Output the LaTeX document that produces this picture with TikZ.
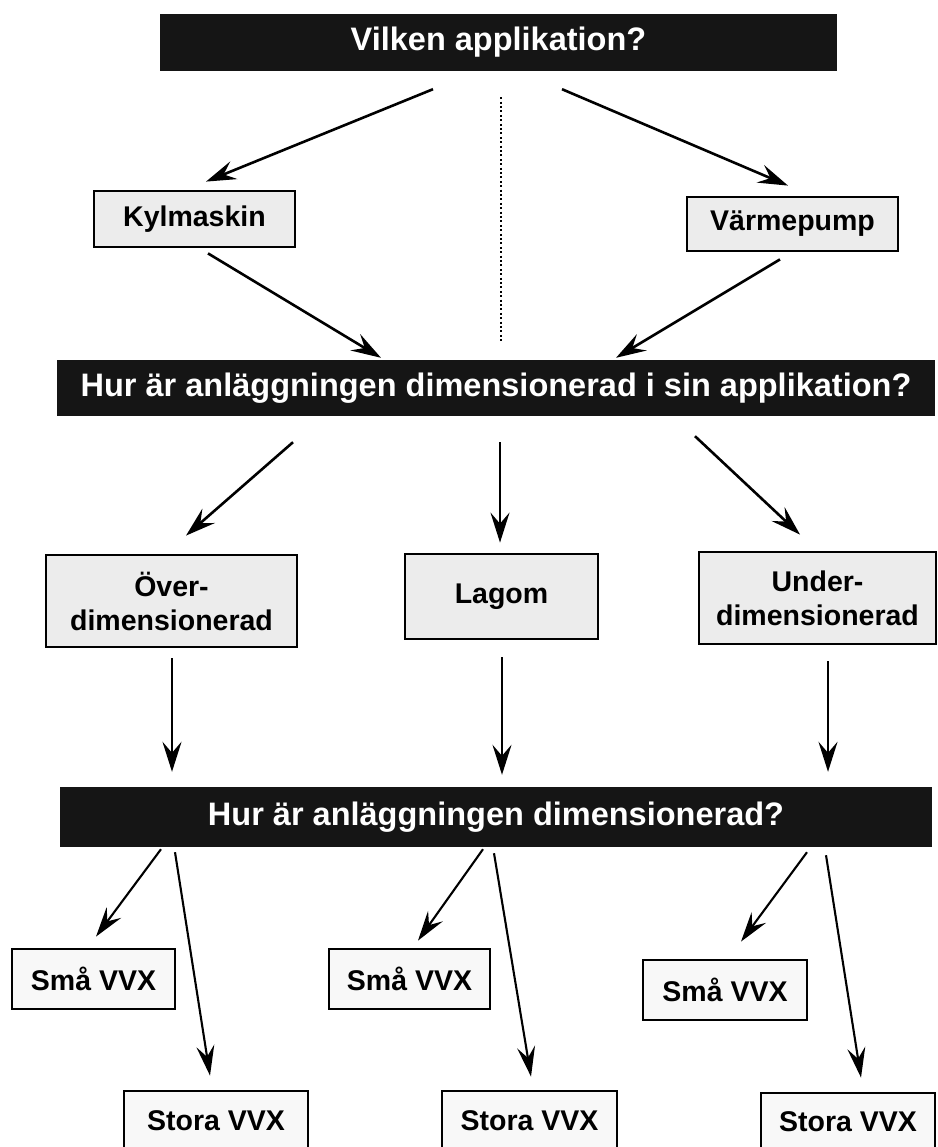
\documentclass[tikz,border=0pt]{standalone}
\usepackage{fontspec}
\setmainfont{Liberation Sans}
\usetikzlibrary{arrows.meta,calc}
\definecolor{barblack}{HTML}{151515}
\definecolor{boxgray}{HTML}{ECECEC}
\definecolor{lightbox}{HTML}{F8F8F8}
\begin{document}
\begin{tikzpicture}[x=1pt,y=-1pt,
  bar/.style={fill=barblack, text=white, inner sep=0pt,
    font=\fontsize{32.5}{36}\selectfont\bfseries},
  greybox/.style={draw=black, line width=2.8pt, fill=boxgray, inner sep=0pt,
    align=center, font=\fontsize{28.5}{34}\selectfont\bfseries},
  whitebox/.style={draw=black, line width=2.8pt, fill=lightbox, inner sep=0pt,
    align=center, font=\fontsize{28.5}{34}\selectfont\bfseries},
  arr/.style={draw=black, line width=2.6pt, -{Stealth[length=30pt,width=19pt,inset=11pt]}},
  thinarr/.style={draw=black, line width=2.1pt, -{Stealth[length=30pt,width=18pt,inset=11pt]}},
  dotline/.style={draw=black, line width=2pt, dash pattern=on 2pt off 2.4pt}
]
\path[use as bounding box, clip] (0,0) rectangle (937,1147);
\fill[white] (0,0) rectangle (937,1147);

% bars
\node[bar, minimum width=677pt, minimum height=57pt] (q1) at (498.5,42.5) {Vilken applikation?};
\node[bar, minimum width=878pt, minimum height=56pt] (q2) at (496,388) {Hur är anläggningen dimensionerad i sin applikation?};
\node[bar, minimum width=872pt, minimum height=60pt] (q3) at (496,817) {Hur är anläggningen dimensionerad?};

% application boxes
\node[greybox, minimum width=201pt, minimum height=56pt] (kyl) at (194.5,219) {Kylmaskin};
\node[greybox, minimum width=211pt, minimum height=54pt] (varme) at (792.5,224) {Värmepump};

% dimension boxes
\node[greybox, minimum width=251pt, minimum height=92pt] (over) at (171.5,601) {Över-\\dimensionerad};
\node[greybox, minimum width=193pt, minimum height=85pt] (lagom) at (501.5,596.5) {Lagom};
\node[greybox, minimum width=237pt, minimum height=92pt] (under) at (817.5,598) {Under-\\dimensionerad};

% VVX boxes
\node[whitebox, minimum width=163pt, minimum height=60pt] (sma1) at (93.5,979) {Små VVX};
\node[whitebox, minimum width=161pt, minimum height=60pt] (sma2) at (409.5,979) {Små VVX};
\node[whitebox, minimum width=164pt, minimum height=60pt] (sma3) at (725,990) {Små VVX};
\node[whitebox, minimum width=184pt, minimum height=59pt] (stora1) at (216,1120.5) {Stora VVX};
\node[whitebox, minimum width=175pt, minimum height=59pt] (stora2) at (529.5,1120.5) {Stora VVX};
\node[whitebox, minimum width=174pt, minimum height=57pt] (stora3) at (848,1121.5) {Stora VVX};

% connectors: level 1
\draw[arr] ($(q1.south)+(-65.5,18)$) -- ($(kyl.north)+(11.5,-8)$);
\draw[arr] ($(q1.south)+(63.5,18)$) -- ($(varme.north)+(-4.5,-10)$);
\draw[dotline] ($(q1.south)+(2.5,26)$) -- ($(q2.north)+(5,-17)$);
\draw[arr] ($(kyl.south)+(13.5,5)$) -- ($(q2.north)+(-115,-2)$);
\draw[arr] ($(varme.south)+(-12.5,7)$) -- ($(q2.north)+(120,-2)$);

% level 2
\draw[arr] ($(q2.south)+(-203,26)$) -- ($(over.north)+(14.5,-18)$);
\draw[arr] ($(q2.south)+(4,26)$) -- ($(lagom.north)+(-1.5,-10)$);
\draw[arr] ($(q2.south)+(199,20)$) -- ($(under.north)+(-17.5,-16)$);

% level 3
\draw[arr] ($(over.south)+(0.5,10)$) -- ($(q3.north)+(-324,-15)$);
\draw[arr] ($(lagom.south)+(0.5,17)$) -- ($(q3.north)+(6,-12)$);
\draw[arr] ($(under.south)+(10.5,16)$) -- ($(q3.north)+(332,-15)$);

% level 4
\draw[thinarr] ($(q3.south)+(-335,2)$) -- ($(sma1.north)+(2.5,-11)$);
\draw[thinarr] ($(q3.south)+(-321,5)$) -- ($(stora1.north)+(-6,-14)$);
\draw[thinarr] ($(q3.south)+(-13,2)$) -- ($(sma2.north)+(8.5,-7)$);
\draw[thinarr] ($(q3.south)+(-2,6)$) -- ($(stora2.north)+(1.5,-13)$);
\draw[thinarr] ($(q3.south)+(311,5)$) -- ($(sma3.north)+(16,-17)$);
\draw[thinarr] ($(q3.south)+(330,8)$) -- ($(stora3.north)+(13,-14)$);
\end{tikzpicture}
\end{document}
